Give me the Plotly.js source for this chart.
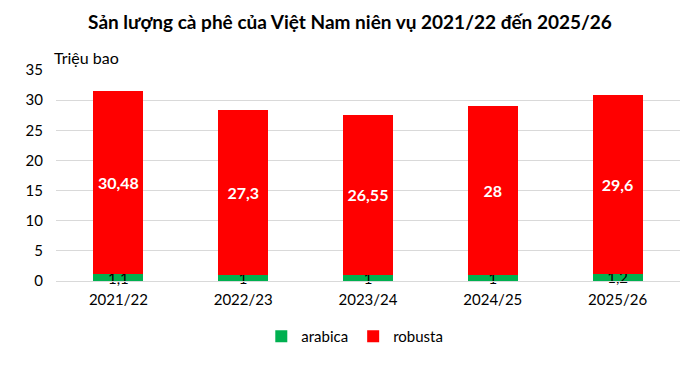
<!DOCTYPE html>
<html>
<head>
<meta charset="utf-8">
<script src="https://cdn.plot.ly/plotly-3.0.1.min.js"></script>
<style>html,body{margin:0;padding:0;background:#fff;}#chart{width:700px;height:365px;}</style>
</head>
<body>
<div id="chart"></div>
<script>
const seasons = ["2021/22", "2022/23", "2023/24", "2024/25", "2025/26"];
const arabica = [1.1, 1, 1, 1, 1.2];
const robusta = [30.48, 27.3, 26.55, 28, 29.6];
const yTicks = [0, 5, 10, 15, 20, 25, 30, 35];

const fmt = v => String(v).replace('.', ',');
const FONT = 'Lato, "Open Sans", "Liberation Sans", sans-serif';

const traces = [
  {
    type: 'bar', name: 'arabica', x: seasons, y: arabica,
    marker: {color: '#00B050'},
    text: arabica.map(fmt), textposition: 'inside', insidetextanchor: 'middle',
    constraintext: 'none', textangle: 0,
    textfont: {color: '#000000', size: 15, family: FONT},
    cliponaxis: false, hoverinfo: 'none'
  },
  {
    type: 'bar', name: 'robusta', x: seasons, y: robusta,
    marker: {color: '#FF0000'},
    text: robusta.map(fmt), textposition: 'inside', insidetextanchor: 'middle',
    constraintext: 'none', textangle: 0,
    textfont: {color: '#FFFFFF', size: 16, family: FONT, weight: 'bold'},
    hoverinfo: 'none'
  }
];

const layout = {
  width: 700, height: 365,
  margin: {l: 55.5, r: 19.5, t: 70, b: 82},
  paper_bgcolor: '#fff', plot_bgcolor: '#fff',
  barmode: 'stack', bargap: 0.6,
  font: {family: FONT, color: '#000', size: 15},
  title: {
    text: '<b>Sản lượng cà phê của Việt Nam niên vụ 2021/22 đến 2025/26</b>',
    x: 0.5, xanchor: 'center', y: 0.94, yanchor: 'middle',
    font: {size: 19, family: FONT, color: '#000'}
  },
  xaxis: {
    type: 'category', tickfont: {size: 15, color: '#000'},
    showgrid: false, showline: true, linecolor: '#D9D9D9', linewidth: 1,
    ticks: '', zeroline: false, ticklabelstandoff: 5
  },
  yaxis: {
    range: [0, 35], tickvals: yTicks, ticktext: yTicks.map(String),
    tickfont: {size: 15, color: '#000'},
    showgrid: true, gridcolor: '#D9D9D9', gridwidth: 1,
    showline: false, zeroline: false, ticks: '', ticklabelstandoff: 12
  },
  legend: {
    orientation: 'h', x: 0.329, xanchor: 'left', y: -0.263, yanchor: 'middle',
    font: {size: 15, color: '#000'}, traceorder: 'normal',
    itemwidth: 30
  },
  annotations: [{
    text: 'Triệu bao', xref: 'paper', yref: 'paper',
    x: -0.006, xanchor: 'left', y: 1.061, yanchor: 'middle',
    showarrow: false, font: {size: 16, color: '#000'}
  }],
  showlegend: true
};

Plotly.newPlot('chart', traces, layout, {displayModeBar: false, staticPlot: true});
</script>
</body>
</html>
